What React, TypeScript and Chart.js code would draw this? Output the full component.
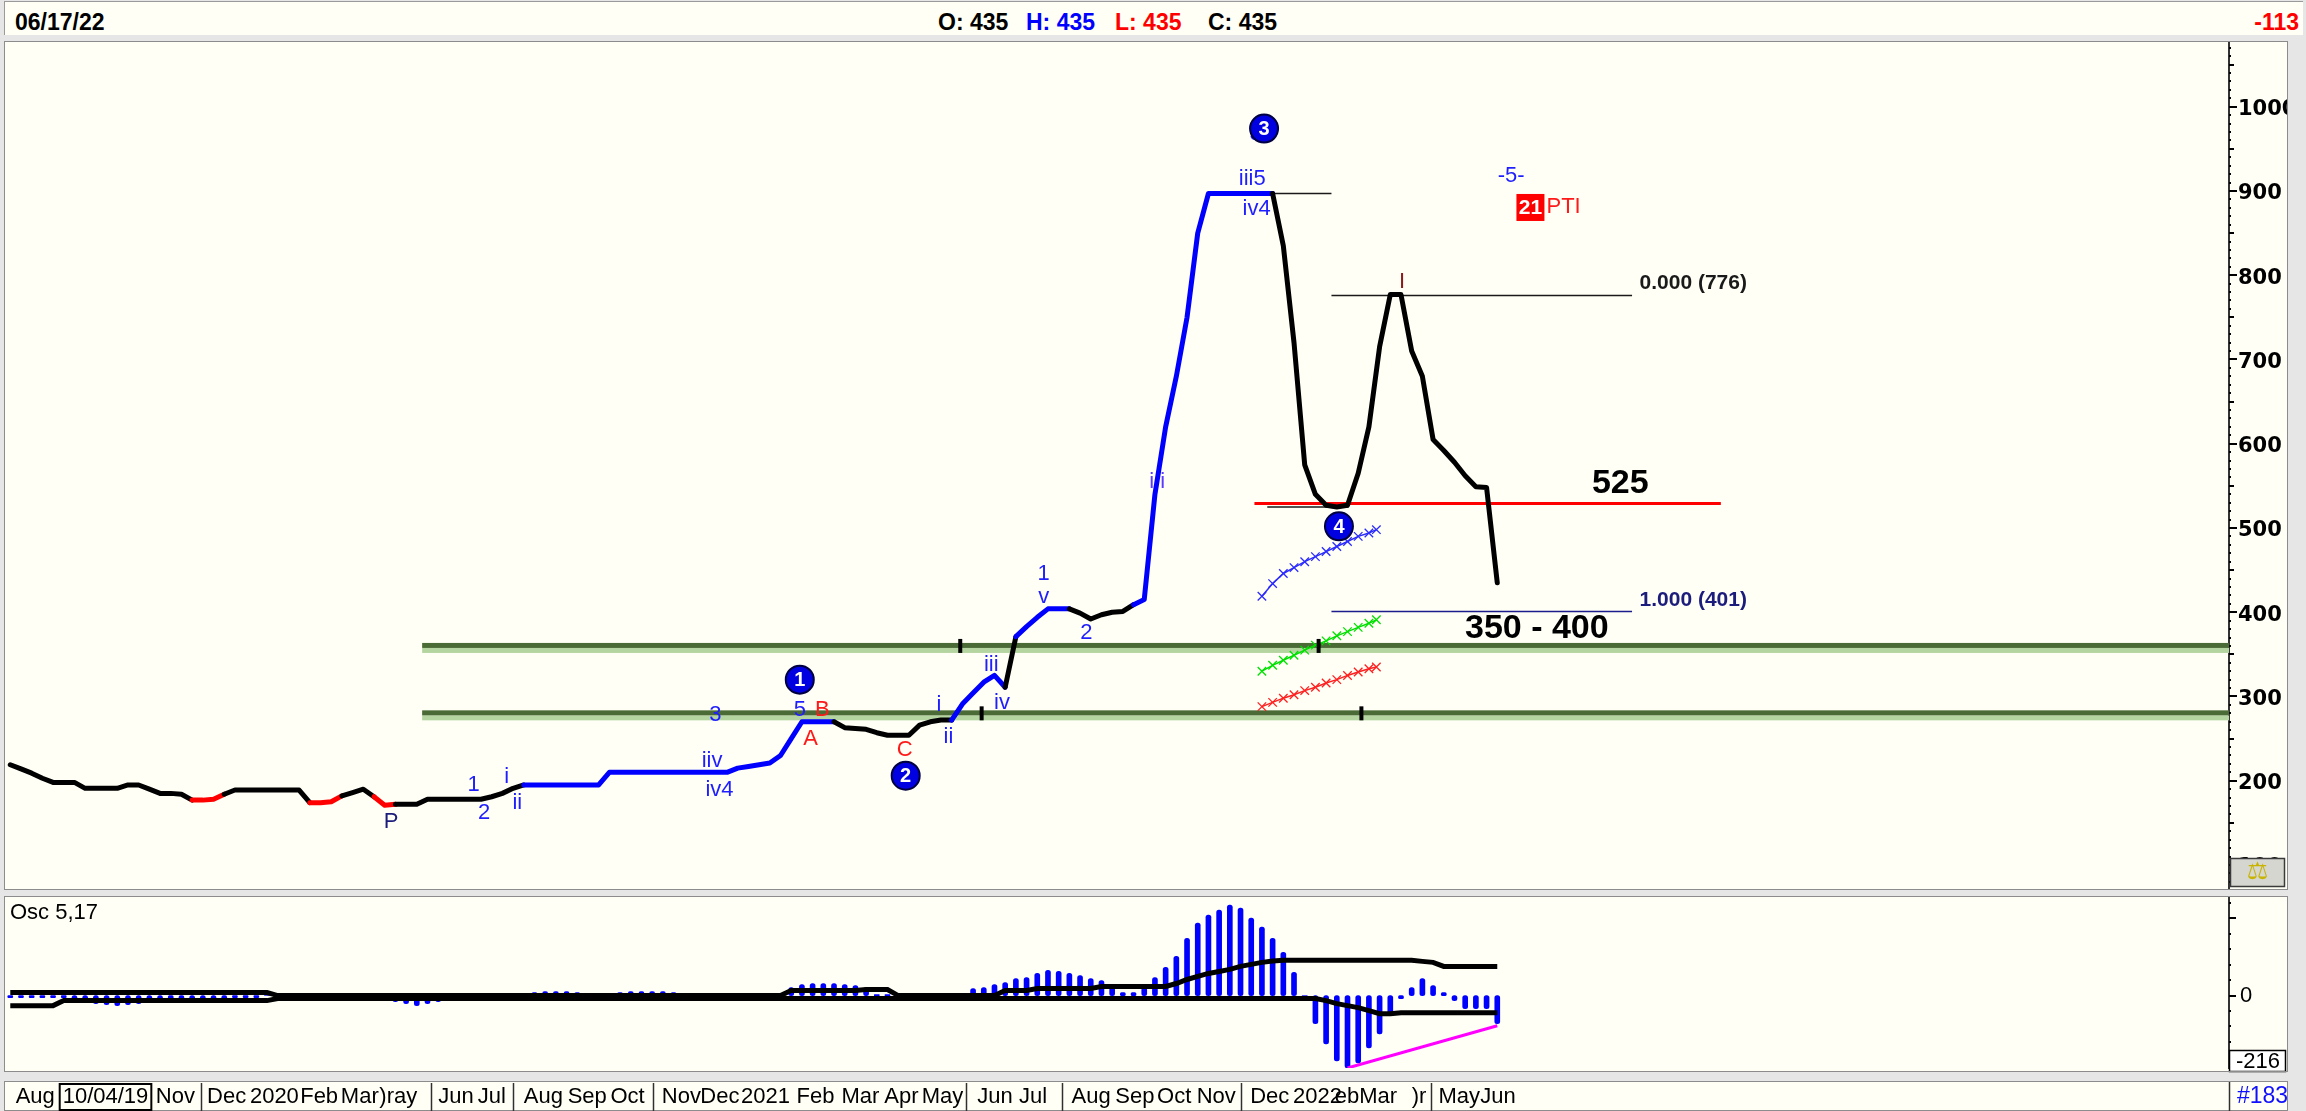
import React, { useEffect, useRef } from "react";
import { Chart, registerables } from "chart.js";

Chart.register(...registerables);

const SANS = '"Liberation Sans", Arial, Helvetica, sans-serif';
const VERD = '"DejaVu Sans", Verdana, sans-serif';
const CREAM = "#fffff5";

// ---------------- price (weekly closes, index 0 = Aug 2019) ----------------
const priceValues = [
  219, 214, 209, 203, 198, 198, 198, 191, 191, 191,
  191, 195, 195, 190, 185, 185, 184, 177, 177, 178,
  184, 189, 189, 189, 189, 189, 189, 189, 174, 174,
  175, 182, 186, 190, 181, 171, 172, 172, 172, 178,
  178, 178, 178, 178, 178, 181, 185, 191, 195, 195,
  195, 195, 195, 195, 195, 195, 210, 210, 210, 210,
  210, 210, 210, 210, 210, 210, 210, 210, 215, 217,
  219, 221, 230, 250, 270, 270, 270, 270, 263, 262,
  261, 257, 254, 254, 254, 266, 270, 272, 272, 291,
  304, 317, 325, 311, 371, 383, 394, 404, 404, 404,
  399, 392, 397, 400, 401, 409, 415, 540, 620, 680,
  750, 850, 897, 897, 897, 897, 897, 897, 897, 835,
  720, 575, 540, 527, 525, 527, 565, 620, 715, 777,
  777, 710, 680, 605, 592, 578, 562, 549, 548, 435,
];
// wave colouring (segment start index ranges)
const blueWaveRanges = [[48, 76], [88, 92], [94, 98], [105, 117]];
const redWaveRanges = [[17, 19], [28, 30], [34, 35]];

// ---------------- levels ----------------
const supportLevels = [360, 280];
const supportStart = 38.5;
const supportMarks = [[88.8, 360], [90.8, 280], [122.3, 360], [126.3, 280]];
const redLevel = [116.3, 159.9, 529];
const thinLevels = [[117.5, 125.1, 525], [117, 123.5, 897]];
const fibZero = [123.5, 151.6, 776];
const fibOne = [123.5, 151.6, 401];
const fibTexts: [string, number, number][] = [["0.000 (776)", 152.3, 791], ["1.000 (401)", 152.3, 414]];
const zoneTexts: [string, number, number][] = [["525", 150.5, 553], ["350 - 400", 142.7, 381]];

// ---------------- channel projections ----------------
const channelX = [117, 118, 119, 120, 121, 122, 123, 124, 125, 126, 127, 127.7];
const channelBlue = [419, 434, 446, 453, 460, 466, 472, 478, 484, 490, 494, 498];
const channelGreen = [330, 337, 343, 349, 355, 361, 366, 372, 377, 382, 387, 391];
const channelRed = [288, 293, 298, 302, 307, 311, 316, 320, 325, 329, 333, 335];

// ---------------- wave labels [text, index, value, kind] ----------------
const waveLabels: [string, number, number, string][] = [
  ["P", 35.6, 151, "navy"],
  ["1", 43.3, 195, "blue"],
  ["2", 44.3, 162, "blue"],
  ["i", 46.4, 205, "blue"],
  ["ii", 47.4, 174, "blue"],
  ["3", 65.9, 278, "blue"],
  ["iiv", 65.6, 224, "blue"],
  ["iv4", 66.3, 189, "blue"],
  ["5", 73.8, 284, "blue"],
  ["B", 75.9, 284, "red"],
  ["A", 74.8, 250, "red"],
  ["C", 83.6, 236, "red"],
  ["i", 86.8, 290, "blue"],
  ["ii", 87.7, 252, "blue"],
  ["iii", 91.7, 337, "blue"],
  ["iv", 92.7, 292, "blue"],
  ["1", 96.6, 446, "blue"],
  ["v", 96.6, 418, "blue"],
  ["2", 100.6, 375, "blue"],
  ["i i", 107.2, 555, "purple"],
  ["3", 116.4, 968, "blue"],
  ["iii5", 116.1, 914, "blue"],
  ["iv4", 116.5, 879, "blue"],
  ["-5-", 140.3, 918, "blue"],
  ["PTI", 145.2, 881, "red"],
  ["I", 130.1, 792, "darkred"],
];
const waveCircles: [string, number, number][] = [
  ["1", 73.8, 320], ["2", 83.7, 206], ["3", 117.2, 974], ["4", 124.2, 502],
];
const ptiBox: [string, number, number] = ["21", 142.1, 881];

// ---------------- oscillator 5,17 ----------------
const oscHistogram = [
  -6, -6, -6, -6, -6, -6, -15, -18, -24, -27,
  -30, -27, -24, -18, -15, -9, -12, -18, -21, -18,
  -12, -6, -6, -6, 0, 0, 0, 0, 0, 0,
  0, 0, 0, 0, 0, -12, -18, -24, -30, -24,
  -18, -12, 0, 0, 0, 0, 0, 0, 0, 9,
  12, 12, 12, 9, 0, 0, 0, 9, 12, 12,
  12, 12, 9, 0, 0, 0, 0, 0, 0, 0,
  0, 0, 0, 24, 33, 36, 36, 36, 33, 30,
  24, 3, 3, 3, 0, 0, 0, 0, 0, 0,
  21, 24, 33, 39, 51, 54, 66, 75, 72, 66,
  60, 51, 45, 24, 9, 9, 24, 54, 84, 117,
  171, 216, 240, 255, 270, 261, 231, 204, 171, 129,
  69, 0, -84, -144, -195, -216, -201, -156, -114, -54,
  -9, 24, 51, 30, 9, -15, -39, -39, -39, -84,
];
const oscUpper = [
  9, 9, 9, 9, 9, 9, 9, 9, 9, 9,
  9, 9, 9, 9, 9, 9, 9, 9, 9, 9,
  9, 9, 9, 9, 9, 0, 0, 0, 0, 0,
  0, 0, 0, 0, 0, 0, 0, 0, 0, 0,
  0, 0, 0, 0, 0, 0, 0, 0, 0, 0,
  0, 0, 0, 0, 0, 0, 0, 0, 0, 0,
  0, 0, 0, 0, 0, 0, 0, 0, 0, 0,
  0, 0, 0, 15, 15, 15, 15, 15, 15, 15,
  18, 18, 18, 0, 0, 0, 0, 0, 0, 0,
  0, 0, 0, 15, 15, 15, 21, 21, 21, 21,
  21, 21, 27, 27, 27, 27, 27, 27, 27, 36,
  48, 57, 66, 72, 78, 87, 93, 99, 103, 105,
  105, 105, 105, 105, 105, 105, 105, 105, 105, 105,
  105, 105, 102, 99, 87, 87, 87, 87, 87, 87,
];
const oscLower = [
  -30, -30, -30, -30, -30, -15, -15, -15, -15, -15,
  -15, -15, -15, -15, -15, -15, -15, -15, -15, -15,
  -15, -15, -15, -15, -15, -9, -9, -9, -9, -9,
  -9, -9, -9, -9, -9, -9, -9, -9, -9, -9,
  -9, -9, -9, -9, -9, -9, -9, -9, -9, -9,
  -9, -9, -9, -9, -9, -9, -9, -9, -9, -9,
  -9, -9, -9, -9, -9, -9, -9, -9, -9, -9,
  -9, -9, -9, -9, -9, -9, -9, -9, -9, -9,
  -9, -9, -9, -9, -9, -9, -9, -9, -9, -9,
  -9, -9, -9, -9, -9, -9, -9, -9, -9, -9,
  -9, -9, -9, -9, -9, -9, -9, -9, -9, -9,
  -9, -9, -9, -9, -9, -9, -9, -9, -9, -9,
  -9, -9, -9, -15, -24, -30, -36, -45, -54, -54,
  -51, -51, -51, -51, -51, -51, -51, -51, -51, -51,
];
const divergenceLine = [[125, -216], [139, -90]];
const oscAxisTicks = [276, 230, 184, 138, 92, 46, 0, -46, -92, -138, -184];

// ---------------- date axis ----------------
const dateTickIndex = [0.5, 13.6, 18.4, 22.4, 27.1, 30.9, 34.5, 40, 43.7, 48, 52.1, 56.1, 60.9, 64.5, 68.3, 73.5, 77.7, 81.7, 85.2, 90.4, 94.3, 99.2, 103.3, 107.2, 110.9, 115.9, 119.9, 123.8, 131, 133.5, 137.4];
const dateTickText = ["Aug", "Nov", "Dec", "2020", "Feb", "Mar", ")ray", "Jun", "Jul", "Aug", "Sep", "Oct", "Nov", "Dec", "2021", "Feb", "Mar", "Apr", "May", "Jun", "Jul", "Aug", "Sep", "Oct", "Nov", "Dec", "2022", "ebMar", ")r", "May", "Jun"];
const dateSeparators = [17.85, 39.35, 47, 60.1, 89.3, 98.3, 115, 132.8];
const boxedDate: [string, number] = ["10/04/19", 4.9];
const barCountText = "#183";

const X_MIN = -0.4;
const X_MAX = 207.4;

const labelColors: Record<string, string> = {
  blue: "#1e1eff", red: "#ff1a1a", navy: "#1c1c7c", purple: "#5a3cff", darkred: "#8b1a1a",
};

function waveColor(i: number) {
  for (const [a, b] of blueWaveRanges) if (i >= a && i <= b) return "#0000ff";
  for (const [a, b] of redWaveRanges) if (i >= a && i <= b) return "#ff0000";
  return "#000000";
}

function txt(ctx: any, s: string, x: number, y: number, font: string, color: string, align = "center", baseline = "middle") {
  ctx.font = font;
  ctx.fillStyle = color;
  ctx.textAlign = align;
  ctx.textBaseline = baseline;
  ctx.fillText(s, x, y);
}

function hline(ctx: any, xs: any, ys: any, seg: number[], color: string, width: number) {
  const y = ys.getPixelForValue(seg[2]);
  ctx.strokeStyle = color;
  ctx.lineWidth = width;
  ctx.beginPath();
  ctx.moveTo(xs.getPixelForValue(seg[0]), y);
  ctx.lineTo(xs.getPixelForValue(seg[1]), y);
  ctx.stroke();
}

function fixAxis(s: any) {
  s.width = 59;
  s.paddingTop = 0;
  s.paddingBottom = 0;
}

const mainDecor = {
  id: "mainDecor",
  beforeDatasetsDraw(chart: any) {
    const { ctx, chartArea: ca, scales } = chart;
    const xs = scales.x, ys = scales.y;
    ctx.save();
    ctx.beginPath();
    ctx.rect(ca.left, ca.top, ca.width, ca.height);
    ctx.clip();
    const bx = xs.getPixelForValue(supportStart);
    for (const lvl of supportLevels) {
      const py = ys.getPixelForValue(lvl);
      ctx.fillStyle = "#b4d5a0";
      ctx.fillRect(bx, py + 2, ca.right - bx, 5);
      ctx.fillStyle = "#4a6b35";
      ctx.fillRect(bx, py - 3, ca.right - bx, 5);
    }
    hline(ctx, xs, ys, redLevel, "#ff0000", 3);
    for (const l of thinLevels) hline(ctx, xs, ys, l, "#1a1a1a", 1.5);
    hline(ctx, xs, ys, fibZero, "#1a1a1a", 1.5);
    hline(ctx, xs, ys, fibOne, "#1c1c8c", 1.5);
    ctx.restore();
  },
  afterDatasetsDraw(chart: any) {
    const { ctx, scales } = chart;
    const xs = scales.x, ys = scales.y;
    const px = (i: number) => xs.getPixelForValue(i);
    const py = (v: number) => ys.getPixelForValue(v);
    ctx.save();
    for (const [t, xi, yv, kind] of waveLabels) {
      txt(ctx, t, px(xi), py(yv), `22px ${SANS}`, labelColors[kind]);
    }
    for (const [t, xi, yv] of waveCircles) {
      const cx = px(xi), cy = py(yv);
      ctx.beginPath();
      ctx.arc(cx, cy, 14, 0, Math.PI * 2);
      ctx.fillStyle = "#0000e0";
      ctx.fill();
      ctx.lineWidth = 2;
      ctx.strokeStyle = "#000040";
      ctx.stroke();
      txt(ctx, t, cx, cy + 1, `bold 20px ${SANS}`, "#ffffff");
    }
    {
      const [t, xi, yv] = ptiBox;
      const cx = px(xi), cy = py(yv);
      ctx.fillStyle = "#ff0000";
      ctx.fillRect(cx - 14, cy - 13, 28, 27);
      txt(ctx, t, cx, cy + 1, `bold 21px ${SANS}`, "#ffffff");
    }
    txt(ctx, fibTexts[0][0], px(fibTexts[0][1]), py(fibTexts[0][2]), `bold 21px ${SANS}`, "#1a1a1a", "left");
    txt(ctx, fibTexts[1][0], px(fibTexts[1][1]), py(fibTexts[1][2]), `bold 21px ${SANS}`, "#1c1c7c", "left");
    for (const [t, xi, yv] of zoneTexts) {
      txt(ctx, t, px(xi), py(yv), `bold 34px ${SANS}`, "#000000");
    }
    ctx.restore();
  },
  afterDraw(chart: any) {
    const { ctx, chartArea: ca, scales, width, height } = chart;
    const ys = scales.y;
    ctx.save();
    ctx.fillStyle = "#000";
    for (const t of ys.ticks) {
      const v = t.value;
      const p = Math.round(ys.getPixelForValue(v));
      const len = v % 100 === 0 ? 8 : v % 50 === 0 ? 5 : 2;
      ctx.fillRect(ca.right, p - 1, len, 2);
    }
    // scale icon
    const ix = ca.right + 1, iy = ca.bottom - 30;
    ctx.fillStyle = "#d6d6d0";
    ctx.fillRect(ix, iy, width - ix - 3, 29);
    ctx.strokeStyle = "#3a3a3a";
    ctx.lineWidth = 1.5;
    ctx.strokeRect(ix + 0.5, iy + 0.5, width - ix - 4, 28);
    txt(ctx, "\u2696", ix + (width - ix - 3) / 2, iy + 15, `24px ${VERD}`, "#c8b400");
    ctx.strokeStyle = "#8c8c8c";
    ctx.lineWidth = 1;
    ctx.strokeRect(0.5, 0.5, width - 1, height - 1);
    ctx.restore();
  },
};

const oscDecor = {
  id: "oscDecor",
  beforeDraw(chart: any) {
    const { ctx, width } = chart;
    ctx.save();
    ctx.fillStyle = CREAM;
    ctx.fillRect(0, 0, width, 176);
    ctx.fillStyle = "#e6e6e6";
    ctx.fillRect(0, 176, width, 9);
    ctx.fillStyle = CREAM;
    ctx.fillRect(0, 185, width, 30);
    ctx.restore();
  },
  afterDraw(chart: any) {
    const { ctx, chartArea: ca, scales, width } = chart;
    const xs = scales.x, ys = scales.y;
    ctx.save();
    ctx.fillStyle = "#000";
    for (const t of ys.ticks) {
      const v = t.value;
      const p = Math.round(ys.getPixelForValue(v));
      const len = v === 0 || v === 230 ? 7 : 2;
      ctx.fillRect(ca.right, p - 1, len, 2);
    }
    // min box
    ctx.fillStyle = "#ffffff";
    ctx.fillRect(ca.right, 154, width - ca.right - 2, 22);
    ctx.strokeStyle = "#000";
    ctx.lineWidth = 1.5;
    ctx.strokeRect(ca.right + 0.5, 154.5, width - ca.right - 3, 21);
    txt(ctx, String(ys.min), ca.right + 7, 166, `22px ${SANS}`, "#000", "left");
    txt(ctx, "Osc 5,17", 6, 17, `22px ${SANS}`, "#000", "left");
    ctx.strokeStyle = "#8c8c8c";
    ctx.lineWidth = 1;
    ctx.strokeRect(0.5, 0.5, width - 1, 175);
    // date strip
    ctx.strokeStyle = "#8c8c8c";
    ctx.strokeRect(0.5, 185.5, width - 1, 29);
    ctx.strokeStyle = "#303030";
    ctx.lineWidth = 1.5;
    for (const s of dateSeparators) {
      const x = Math.round(xs.getPixelForValue(s)) + 0.5;
      ctx.beginPath();
      ctx.moveTo(x, 187);
      ctx.lineTo(x, 215);
      ctx.stroke();
    }
    const rx = Math.round(ca.right) + 0.5;
    ctx.beginPath();
    ctx.moveTo(rx, 186);
    ctx.lineTo(rx, 215);
    ctx.stroke();
    const font = `22px ${SANS}`;
    for (let k = 0; k < dateTickIndex.length; k++) {
      txt(ctx, dateTickText[k], xs.getPixelForValue(dateTickIndex[k]), 201, font, "#000", "left");
    }
    {
      const [t, xi] = boxedDate;
      const x = xs.getPixelForValue(xi);
      ctx.font = font;
      const w = ctx.measureText(t).width;
      txt(ctx, t, x, 201, font, "#000", "left");
      ctx.strokeStyle = "#000";
      ctx.lineWidth = 2;
      ctx.strokeRect(x - 3, 188, w + 6, 26);
    }
    txt(ctx, barCountText, ca.right + 8, 201, `23px ${SANS}`, "#1010ff", "left");
    ctx.restore();
  },
};

export default function App() {
  const mainRef = useRef<HTMLCanvasElement>(null);
  const oscRef = useRef<HTMLCanvasElement>(null);

  useEffect(() => {
    document.body.style.margin = "0";
    document.body.style.overflow = "hidden";
    const mainChart = new Chart(mainRef.current as HTMLCanvasElement, {
      type: "line",
      data: {
        datasets: [
          {
            label: "price",
            data: priceValues.map((v, i) => ({ x: i, y: v })),
            borderColor: "#000",
            borderWidth: 5,
            pointRadius: 0,
            tension: 0,
            borderJoinStyle: "round",
            borderCapStyle: "round",
            segment: { borderColor: (c: any) => waveColor(c.p0DataIndex) },
            order: 1,
          },
          ...[
            [channelBlue, "#2b2bff"],
            [channelGreen, "#00e000"],
            [channelRed, "#ff2020"],
          ].map(([vals, col]: any) => ({
            label: "channel",
            data: channelX.map((x, k) => ({ x, y: vals[k] })),
            borderColor: col,
            borderWidth: 1.5,
            pointStyle: "crossRot",
            pointRadius: 6,
            pointBorderWidth: 1.3,
            pointBorderColor: col,
            tension: 0,
            order: 2,
          })),
          {
            label: "marks",
            data: supportMarks.map(([x, y]) => ({ x, y })),
            showLine: false,
            pointStyle: "line",
            pointRotation: 90,
            pointRadius: 7,
            pointBorderWidth: 4,
            pointBorderColor: "#000",
            pointBackgroundColor: "#000",
            order: 0,
          },
        ],
      },
      options: {
        animation: false,
        responsive: false,
        events: [],
        layout: { autoPadding: false, padding: { left: 2, top: 1, bottom: 2, right: 0 } },
        plugins: { legend: { display: false }, tooltip: { enabled: false } },
        scales: {
          x: { type: "linear", min: X_MIN, max: X_MAX, display: false },
          y: {
            position: "right",
            min: 72.7,
            max: 1076.8,
            afterFit: fixAxis,
            afterBuildTicks: (s: any) => {
              const t: any[] = [];
              for (let v = 80; v <= 1070; v += 10) t.push({ value: v });
              s.ticks = t;
            },
            grid: { display: false, drawTicks: false },
            border: { display: true, color: "#333", width: 2 },
            ticks: {
              autoSkip: false,
              padding: 9,
              labelOffset: 3,
              color: "#000",
              font: { family: VERD, size: 21, weight: "bold", lineHeight: 0.01 },
              callback: (v: any) => (v % 100 === 0 ? String(v) : ""),
            },
          },
        },
      },
      plugins: [mainDecor],
    } as any);

    const oscChart = new Chart(oscRef.current as HTMLCanvasElement, {
      type: "bar",
      data: {
        datasets: [
          {
            type: "line",
            label: "upper",
            data: oscUpper.map((v, i) => ({ x: i, y: v })),
            borderColor: "#000",
            borderWidth: 5,
            pointRadius: 0,
            order: 1,
          },
          {
            type: "line",
            label: "lower",
            data: oscLower.map((v, i) => ({ x: i, y: v })),
            borderColor: "#000",
            borderWidth: 5,
            pointRadius: 0,
            order: 1,
          },
          {
            type: "line",
            label: "divergence",
            data: divergenceLine.map(([x, y]) => ({ x, y })),
            borderColor: "#ff00ff",
            borderWidth: 3,
            pointRadius: 0,
            order: 0,
          },
          {
            type: "bar",
            label: "osc",
            data: oscHistogram.map((v, i) => ({ x: i, y: v })),
            backgroundColor: "#0000ff",
            barThickness: 5,
            borderRadius: 2.5,
            borderSkipped: false,
            order: 3,
          },
        ],
      },
      options: {
        animation: false,
        responsive: false,
        events: [],
        layout: { autoPadding: false, padding: { left: 2, top: 1, bottom: 43, right: 0 } },
        plugins: { legend: { display: false }, tooltip: { enabled: false } },
        scales: {
          x: { type: "linear", min: X_MIN, max: X_MAX, display: false, offset: false },
          y: {
            position: "right",
            min: -216,
            max: 294,
            afterFit: fixAxis,
            afterBuildTicks: (s: any) => { s.ticks = oscAxisTicks.map((v) => ({ value: v })); },
            grid: { display: false, drawTicks: false },
            border: { display: true, color: "#333", width: 2 },
            ticks: {
              autoSkip: false,
              padding: 11,
              color: "#000",
              font: { family: SANS, size: 22, lineHeight: 0.01 },
              callback: (v: any) => (v === 0 ? "0" : ""),
            },
          },
        },
      },
      plugins: [oscDecor],
    } as any);

    return () => {
      mainChart.destroy();
      oscChart.destroy();
    };
  }, []);

  const topText = (s: string, left: number, color: string, extra: any = {}) => (
    <span style={{ position: "absolute", left, top: 0, lineHeight: "44px", fontSize: 23, fontWeight: "bold", color, whiteSpace: "nowrap", ...extra }}>{s}</span>
  );

  return (
    <div style={{ position: "absolute", left: 0, top: 0, width: 2306, height: 1111, background: "#e6e6e6", overflow: "hidden", fontFamily: SANS }}>
      <div style={{ position: "absolute", left: 4, top: 1, width: 2298, height: 33, background: CREAM, borderTop: "1px solid #9a9a9a", borderLeft: "1px solid #9a9a9a" }} />
      <div style={{ position: "absolute", left: 0, top: 0, width: 2306, height: 40 }}>
        {topText("06/17/22", 15, "#000")}
        {topText("O: 435", 938, "#000")}
        {topText("H: 435", 1026, "#0000ff")}
        {topText("L: 435", 1115, "#ff0000")}
        {topText("C: 435", 1208, "#000")}
        {topText("-113", 0, "#ff0000", { left: "auto", right: 7 })}
      </div>
      <div style={{ position: "absolute", left: 4, top: 41, width: 2284, height: 849, background: CREAM }}>
        <canvas ref={mainRef} width={2284} height={849} style={{ display: "block", width: 2284, height: 849 }} />
      </div>
      <div style={{ position: "absolute", left: 4, top: 896, width: 2284, height: 215 }}>
        <canvas ref={oscRef} width={2284} height={215} style={{ display: "block", width: 2284, height: 215 }} />
      </div>
    </div>
  );
}
